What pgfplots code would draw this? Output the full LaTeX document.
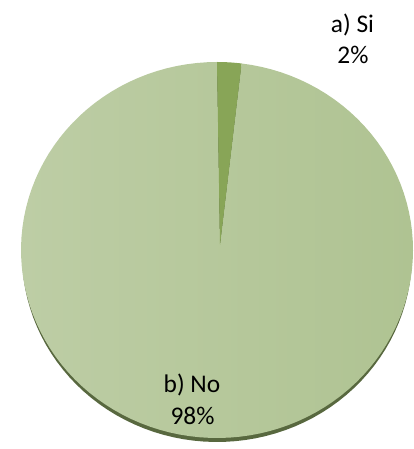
\documentclass[border=0pt]{standalone}
\usepackage{pgfplots}
\usepackage{pgfplotstable}
\pgfplotsset{compat=1.18}
\usepackage{fontspec}
\setmainfont{Carlito}
\definecolor{sliceA}{HTML}{88A557}
\definecolor{sliceBl}{HTML}{BDCDA5}
\definecolor{sliceBr}{HTML}{AFC392}
\definecolor{rim}{HTML}{58683F}
\pgfplotstableread{
label value
a 2
b 98
}\piedata
\begin{document}
\pgfplotstablegetelem{0}{value}\of\piedata \let\va\pgfplotsretval
\pgfplotstablegetelem{1}{value}\of\piedata \let\vb\pgfplotsretval
\pgfmathsetmacro\total{\va+\vb}
\pgfmathsetmacro\angA{360*\va/\total}
\pgfmathsetmacro\startB{90-\angA}
\pgfmathsetmacro\endB{90-360}
\begin{tikzpicture}
\begin{axis}[
  width=404bp, height=449bp, scale only axis,
  xmin=0, xmax=404, ymin=0, ymax=449,
  hide axis, clip=false,
]
\coordinate (SW) at (rel axis cs:0,0);
\coordinate (NE) at (rel axis cs:1,1);
% shadow rim
\addplot[fill=rim, draw=none, domain=0:360, samples=120, variable=\t]
  ({208+195*cos(\t)},{194+187*sin(\t)}) -- cycle;
% slice b
\addplot[left color=sliceBl, right color=sliceBr, draw=none, domain=\endB:\startB, samples=120, variable=\t]
  ({208+196*cos(\t)},{199+188*sin(\t)}) -- (axis cs:211,204) -- cycle;
% slice a
\addplot[fill=sliceA, draw=none, domain=\startB:90, samples=10, variable=\t]
  ({208+196*cos(\t)},{199+188*sin(\t)}) -- (axis cs:211,204) -- cycle;
\node[anchor=base, font=\fontsize{25.5}{31}\selectfont] at (axis cs:343.5,416) {a) Si};
\node[anchor=base, font=\fontsize{25.5}{31}\selectfont] at (axis cs:344,385) {\va\%};
\node[anchor=base, font=\fontsize{25.5}{31}\selectfont] at (axis cs:183,56) {b) No};
\node[anchor=base, font=\fontsize{25.5}{31}\selectfont] at (axis cs:183.5,24) {\vb\%};
\end{axis}
\pgfresetboundingbox
\useasboundingbox (SW) rectangle (NE);
\end{tikzpicture}
\end{document}
